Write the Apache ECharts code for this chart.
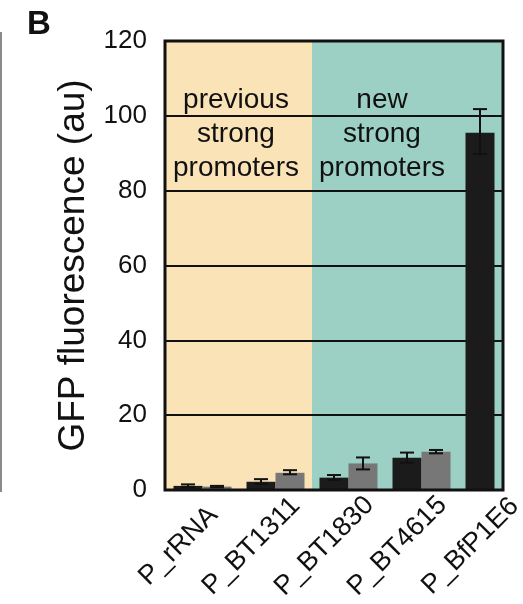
<!DOCTYPE html>
<html>
<head>
<meta charset="utf-8">
<script src="https://cdn.jsdelivr.net/npm/echarts@6/dist/echarts.min.js"></script>
<style>
  html, body { margin: 0; padding: 0; background: #fff; overflow: hidden; }
  #chart { width: 560px; height: 604px; }
</style>
</head>
<body>
<div id="chart"></div>
<script>
// Promoter panels
const categories = ['P_rRNA', 'P_BT1311', 'P_BT1830', 'P_BT4615', 'P_BfP1E6'];
// GFP fluorescence (au), first and second measurement
const seriesA = [1.1, 2.2, 3.3, 8.6, 95.5];
const seriesB = [0.9, 4.6, 7.1, 10.2, null];
// error bar extents [low, high]
const errA = [[0.8, 1.5], [1.6, 2.9], [2.7, 4.0], [7.3, 10.0], [89.8, 101.8]];
const errB = [[0.7, 1.1], [4.2, 5.3], [5.5, 8.7], [9.8, 10.7], null];
const yTicks = { min: 0, max: 120, step: 20 };
// background groups: first two promoters are "previous", the rest "new"
const groupOf = ['prev', 'prev', 'new', 'new', 'new'];

const FONT = '"Liberation Sans", Arial, sans-serif';
const BEIGE = '#fbe3b8';
const TEAL = '#9dd0c4';

const chart = echarts.init(document.getElementById('chart'), null, { renderer: 'canvas' });

const BAR_W = 29;

function errItems(errs, offset) {
  const out = [];
  errs.forEach((e, i) => { if (e) out.push([i, e[0], e[1], offset]); });
  return out;
}

function renderErr(params, api) {
  const i = api.value(0);
  const lo = api.coord([i, api.value(1)]);
  const hi = api.coord([i, api.value(2)]);
  const x = lo[0] + api.value(3);
  const cap = 7;
  const style = { stroke: '#111', lineWidth: 2 };
  return {
    type: 'group',
    children: [
      { type: 'line', shape: { x1: x, y1: lo[1], x2: x, y2: hi[1] }, style },
      { type: 'line', shape: { x1: x - cap, y1: hi[1], x2: x + cap, y2: hi[1] }, style },
      { type: 'line', shape: { x1: x - cap, y1: lo[1], x2: x + cap, y2: lo[1] }, style }
    ]
  };
}

const option = {
  backgroundColor: '#fff',
  animation: false,
  grid: { left: 166, top: 41, width: 365, height: 449, containLabel: false, outerBoundsMode: 'none' },
  xAxis: {
    type: 'category',
    data: categories,
    boundaryGap: true,
    z: 0,
    axisLine: { show: false },
    axisTick: { show: false },
    splitArea: {
      show: true,
      interval: 0,
      areaStyle: { color: groupOf.map(g => g === 'prev' ? BEIGE : TEAL) }
    },
    axisLabel: {
      interval: 0,
      rotate: 45,
      align: 'center',
      verticalAlign: 'middle',
      margin: 32,
      padding: [0, 68, 0, 0],
      fontFamily: FONT,
      fontSize: 27,
      color: '#111'
    }
  },
  yAxis: {
    type: 'value',
    min: yTicks.min,
    max: yTicks.max,
    interval: yTicks.step,
    z: 2,
    axisLine: { show: false },
    axisTick: { show: false },
    splitLine: { show: true, lineStyle: { color: '#111', width: 2 } },
    axisLabel: { fontFamily: FONT, fontSize: 26, color: '#111', margin: 19 },
    name: 'GFP fluorescence (au)',
    nameLocation: 'middle',
    nameRotate: 90,
    nameGap: 65,
    nameTextStyle: { fontFamily: FONT, fontSize: 37, color: '#111' }
  },
  series: [
    {
      type: 'bar',
      data: seriesA,
      barWidth: BAR_W,
      barGap: '0%',
      itemStyle: { color: '#1b1b1b' },
      z: 3
    },
    {
      type: 'bar',
      data: seriesB,
      barWidth: BAR_W,
      barGap: '0%',
      itemStyle: { color: '#777777' },
      z: 3
    },
    {
      type: 'custom',
      renderItem: renderErr,
      data: errItems(errA, -BAR_W / 2).concat(errItems(errB, BAR_W / 2)),
      encode: { x: 0, y: [1, 2] },
      z: 5
    }
  ],
  graphic: [
    // clip the plot at its right frame
    { type: 'rect', z: 100, shape: { x: 504, y: 0, width: 60, height: 494 }, style: { fill: '#fff' } },
    // plot frame
    { type: 'rect', z: 101, shape: { x: 165, y: 41, width: 338, height: 449 }, style: { fill: null, stroke: '#111', lineWidth: 3 } },
    // edge of the neighbouring panel
    { type: 'line', z: 101, shape: { x1: 1, y1: 32, x2: 1, y2: 492 }, style: { stroke: '#8a8a8a', lineWidth: 2 } },
    // panel letter
    { type: 'text', z: 101, x: 27, y: 8, style: { text: 'B', font: 'bold 33px ' + FONT, fill: '#111' } },
    // group captions
    { type: 'text', z: 101, x: 236, y: 83, style: { text: 'previous\nstrong\npromoters', font: '28px ' + FONT, fill: '#111', align: 'center', verticalAlign: 'top', lineHeight: 34 } },
    { type: 'text', z: 101, x: 382, y: 83, style: { text: 'new\nstrong\npromoters', font: '28px ' + FONT, fill: '#111', align: 'center', verticalAlign: 'top', lineHeight: 34 } }
  ]
};

chart.setOption(option);
</script>
</body>
</html>
